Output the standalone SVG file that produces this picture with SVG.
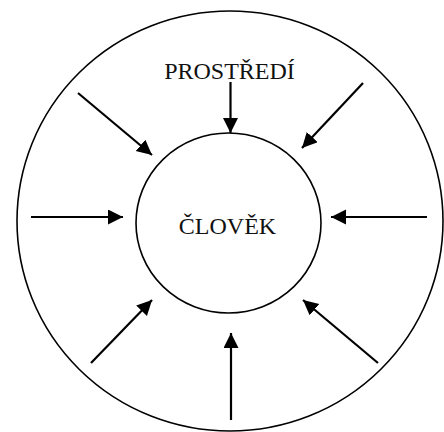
<svg xmlns="http://www.w3.org/2000/svg" width="444" height="432" viewBox="0 0 444 432">
<style>
.ring{fill:none;stroke:#000;stroke-width:1.6}
.lbl{font-family:"Liberation Serif","Times New Roman",serif;font-size:24px;fill:#111;text-anchor:middle}
.arr{stroke:#000;stroke-width:2.2;fill:none;marker-end:url(#ah)}
</style>
<defs>
<marker id="ah" markerUnits="userSpaceOnUse" markerWidth="16" markerHeight="16" refX="15" refY="7.5" orient="auto">
<path d="M0,0 L15,7.5 L0,15 z" fill="#000"/>
</marker>
</defs>
<rect width="444" height="432" fill="#fff"/>
<g id="prostredi">
<ellipse class="ring" cx="230" cy="221" rx="213" ry="210"/>
<text class="lbl" x="229.5" y="79">PROSTŘEDÍ</text>
</g>
<g id="clovek">
<ellipse class="ring" cx="228.5" cy="223" rx="92.5" ry="90"/>
<text class="lbl" x="227.5" y="234">ČLOVĚK</text>
</g>
<g id="connectors">
<line class="arr" x1="230.5" y1="82" x2="230.5" y2="133"/>
<line class="arr" x1="78" y1="93" x2="152" y2="155"/>
<line class="arr" x1="363" y1="83" x2="302" y2="148"/>
<line class="arr" x1="31" y1="217" x2="123" y2="217"/>
<line class="arr" x1="427" y1="217" x2="331" y2="217"/>
<line class="arr" x1="91" y1="363" x2="152" y2="300"/>
<line class="arr" x1="231" y1="420" x2="231" y2="333"/>
<line class="arr" x1="378" y1="363" x2="303" y2="300"/>
</g>
</svg>
